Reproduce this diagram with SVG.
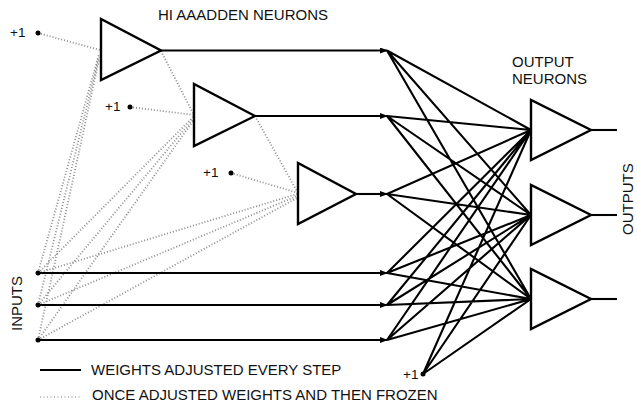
<svg xmlns="http://www.w3.org/2000/svg" width="637" height="406" viewBox="0 0 637 406">
<style>
  .t { font-family: "Liberation Sans", Arial, sans-serif; font-size: 15px; fill: #111; }
  .s { font-family: "Liberation Sans", Arial, sans-serif; font-size: 13.5px; fill: #111; }
  .tri { fill: #fff; stroke: #000; stroke-width: 2.4; stroke-linejoin: miter; }
  .w { stroke: #000; stroke-width: 2.1; fill: none; }
  .d { stroke: #8c8c8c; stroke-width: 1.8; stroke-dasharray: 1 2; fill: none; }
  .dl { stroke: #aaa; stroke-width: 1.4; stroke-dasharray: 1 2.5; fill: none; }
  .dot { fill: #000; }
</style>
<defs>
  <marker id="ah" markerWidth="8" markerHeight="6" refX="7" refY="3" orient="auto" markerUnits="userSpaceOnUse">
    <path d="M0,0 L8,3 L0,6 Z" fill="#000"/>
  </marker>
</defs>
<rect width="637" height="406" fill="#fff"/>

<g id="connectors">
  <g id="frozen">
    <line class="d" x1="38" y1="33" x2="100" y2="50"/>
    <line class="d" x1="130" y1="107" x2="194" y2="115"/>
    <line class="d" x1="231" y1="173" x2="298" y2="193"/>
    <line class="d" x1="161" y1="51" x2="194" y2="115"/>
    <line class="d" x1="255" y1="116" x2="298" y2="193"/>
    <line class="d" x1="38" y1="273" x2="99" y2="54"/>
    <line class="d" x1="38" y1="305" x2="99" y2="57"/>
    <line class="d" x1="38" y1="340" x2="99" y2="60"/>
    <line class="d" x1="38" y1="273" x2="193" y2="117"/>
    <line class="d" x1="38" y1="305" x2="193" y2="119"/>
    <line class="d" x1="38" y1="340" x2="193" y2="121"/>
    <line class="d" x1="38" y1="273" x2="297" y2="194"/>
    <line class="d" x1="38" y1="305" x2="297" y2="196"/>
    <line class="d" x1="38" y1="340" x2="297" y2="198"/>
  </g>
  <g id="trained">
    <line class="w" x1="161" y1="50.5" x2="387" y2="50.5" marker-end="url(#ah)"/>
    <line class="w" x1="255" y1="116" x2="387" y2="116" marker-end="url(#ah)"/>
    <line class="w" x1="356" y1="194" x2="387" y2="194" marker-end="url(#ah)"/>
    <line class="w" x1="38" y1="273" x2="387" y2="273" marker-end="url(#ah)"/>
    <line class="w" x1="38" y1="305" x2="387" y2="305" marker-end="url(#ah)"/>
    <line class="w" x1="38" y1="340" x2="387" y2="340" marker-end="url(#ah)"/>

    <path class="w" d="M387,50.5 L531,130 M387,50.5 L531,215 M387,50.5 L531,299
      M387,116 L531,130 M387,116 L531,215 M387,116 L531,299
      M387,194 L531,130 M387,194 L531,215 M387,194 L531,299
      M387,273 L531,130 M387,273 L531,215 M387,273 L531,299
      M387,305 L531,130 M387,305 L531,215 M387,305 L531,299
      M387,340 L531,130 M387,340 L531,215 M387,340 L531,299
      M423,374 L531,130 M423,374 L531,215 M423,374 L531,299"/>

    <line class="w" x1="591" y1="130" x2="617" y2="130"/>
    <line class="w" x1="591" y1="215" x2="617" y2="215"/>
    <line class="w" x1="591" y1="299" x2="617" y2="299"/>
  </g>
</g>

<g id="hidden1"><polygon class="tri" points="101,19 101,80 161,50.5"/></g>
<g id="hidden2"><polygon class="tri" points="194,84 194,146 255,116"/></g>
<g id="hidden3"><polygon class="tri" points="298,163 298,224 356,194"/></g>

<g id="output1"><polygon class="tri" points="531,100 531,160 591,130"/></g>
<g id="output2"><polygon class="tri" points="531,185 531,245 591,215"/></g>
<g id="output3"><polygon class="tri" points="531,269 531,329 591,299"/></g>

<g id="bias1"><circle class="dot" cx="38" cy="33" r="2.5"/><text class="s" x="10" y="37">+1</text></g>
<g id="bias2"><circle class="dot" cx="130" cy="107" r="2.5"/><text class="s" x="105" y="111">+1</text></g>
<g id="bias3"><circle class="dot" cx="231" cy="173" r="2.5"/><text class="s" x="203" y="177">+1</text></g>
<g id="bias4"><circle class="dot" cx="423" cy="374" r="2.5"/><text class="s" x="403" y="379">+1</text></g>

<g id="input1"><circle class="dot" cx="38" cy="273" r="2.5"/></g>
<g id="input2"><circle class="dot" cx="38" cy="305" r="2.5"/></g>
<g id="input3"><circle class="dot" cx="38" cy="340" r="2.5"/></g>

<g id="labels">
  <text class="t" x="158" y="20">HI AAADDEN NEURONS</text>
  <text class="t" x="512" y="67">OUTPUT</text>
  <text class="t" x="512" y="84">NEURONS</text>
  <text class="t" transform="translate(21.5,331) rotate(-90)">INPUTS</text>
  <text class="t" transform="translate(633,235) rotate(-90)">OUTPUTS</text>
</g>

<g id="legend">
  <line class="w" x1="40" y1="370" x2="81" y2="370"/>
  <text class="t" x="91" y="375">WEIGHTS ADJUSTED EVERY STEP</text>
  <line class="dl" x1="40" y1="397" x2="81" y2="397"/>
  <text class="t" x="92" y="400">ONCE ADJUSTED WEIGHTS AND THEN FROZEN</text>
</g>
</svg>
